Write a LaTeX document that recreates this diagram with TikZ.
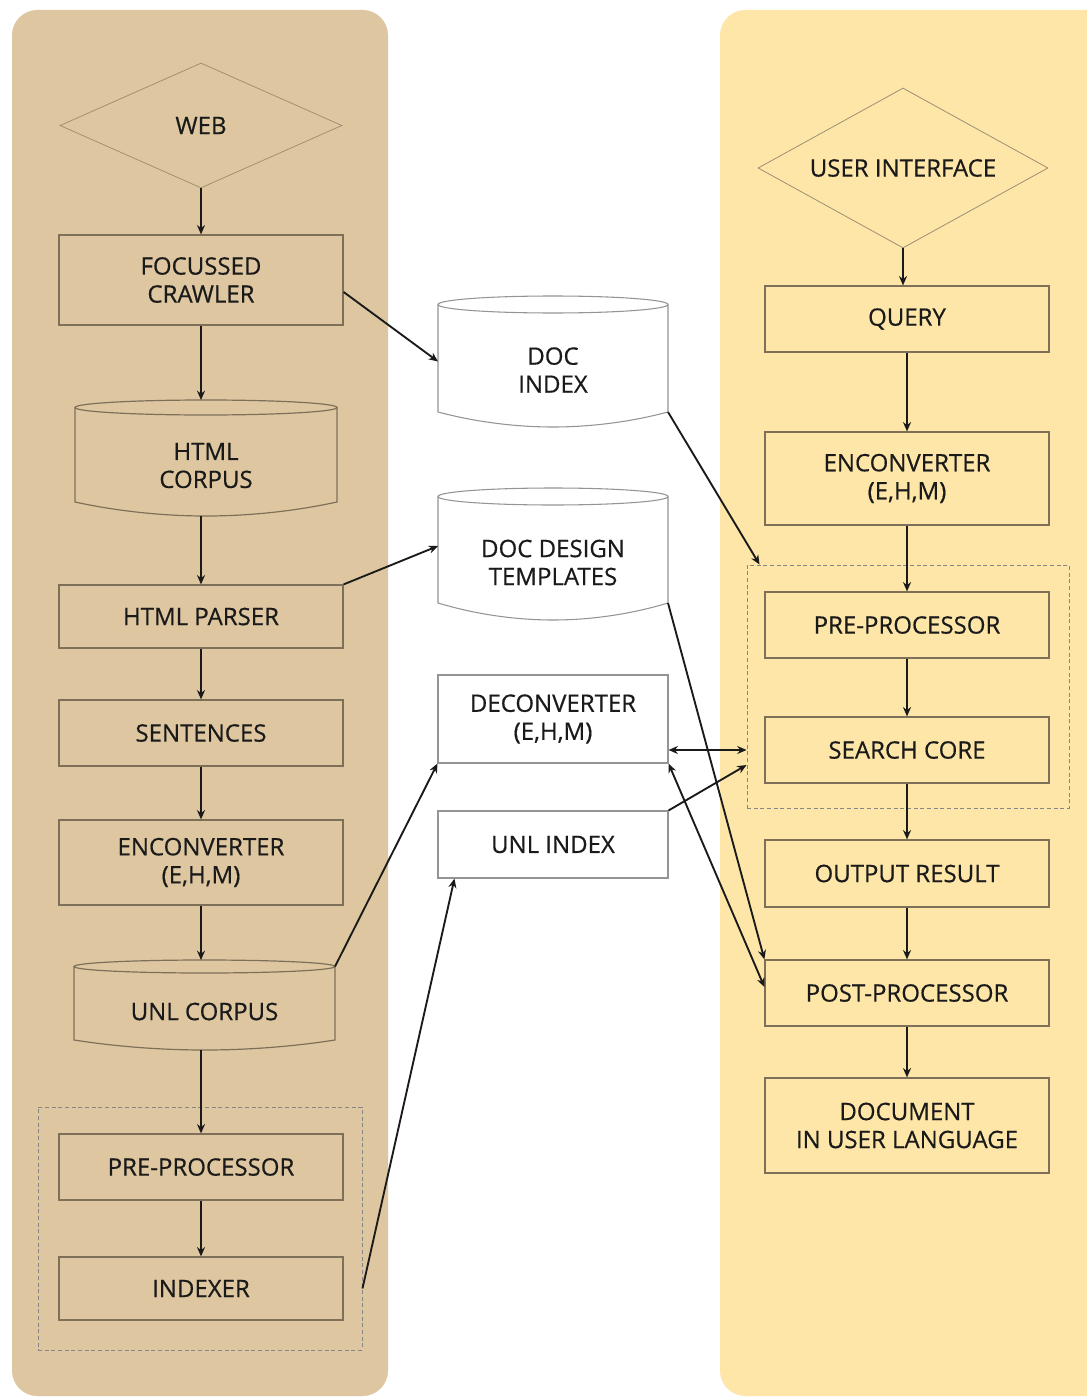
\documentclass[tikz,border=0pt]{standalone}
\usepackage{fontspec}
\setmainfont{Open Sans}[FakeBold=0.5]
\usetikzlibrary{shapes.geometric,arrows.meta,calc}
\definecolor{tanbg}{HTML}{DEC7A0}
\definecolor{creambg}{HTML}{FDE6A8}
\definecolor{edgec}{HTML}{7E7058}
\definecolor{midedge}{HTML}{949494}
\definecolor{diaedge}{HTML}{A08F72}
\definecolor{dashc}{HTML}{868686}
\definecolor{ink}{HTML}{1A1A1A}
\tikzset{
  txt/.style={font=\fontsize{18pt}{21pt}\selectfont, text=ink, align=center},
  pbox/.style={txt, draw=edgec, line width=0.9pt, minimum width=213pt, inner sep=0pt},
  mbox/.style={txt, draw=midedge, fill=white, line width=0.8pt, minimum width=172.5pt, inner sep=0pt},
  dia/.style={txt, diamond, draw=diaedge, line width=0.6pt, inner sep=0pt},
  dbox/.style={draw=dashc, dash pattern=on 3pt off 2pt, line width=0.7pt, inner sep=0pt},
  cyltext/.style={txt, inner sep=0pt},
  arr/.style={draw=ink, line width=1.4pt, -{Stealth[length=7pt,width=6pt]}},
  darr/.style={draw=ink, line width=1.4pt, {Stealth[length=7pt,width=6pt]}-{Stealth[length=7pt,width=6pt]}},
}
% #1 name, #2 x1, #3 x2, #4 ytop, #5 yfront, #6 ycorner, #7 ybottom, #8 text, #9 style
\newcommand\drawcyl[9]{%
  \path[#9, draw=none] (#2,{(#4+#5)/2}) -- (#2,#6) parabola bend ({(#2+#3)/2},#7) (#3,#6) -- (#3,{(#4+#5)/2}) -- cycle;
  \path[#9] ({(#2+#3)/2},{(#4+#5)/2}) ellipse [x radius={(#3-#2)/2}, y radius={(#5-#4)/2}];
  \path[#9, fill=none] (#2,{(#4+#5)/2}) -- (#2,#6) parabola bend ({(#2+#3)/2},#7) (#3,#6) -- (#3,{(#4+#5)/2});
  \node[cyltext] (#1) at ({(#2+#3)/2},{(#5+#7)/2}) {#8};
  \coordinate (#1-t) at ({(#2+#3)/2},#4);
  \coordinate (#1-b) at ({(#2+#3)/2},#7);
  \coordinate (#1-w) at (#2,{(#4+#7)/2});
  \coordinate (#1-tr) at (#3,{(#4+#5)/2});
  \coordinate (#1-br) at (#3,#6);
}
\begin{document}
\begin{tikzpicture}[x=0.75pt,y=-0.75pt]
\useasboundingbox (0,0) rectangle (1087,1398);
\clip (0,0) rectangle (1087,1398);
\fill[white] (0,0) rectangle (1087,1398);
\fill[tanbg, rounded corners=19pt] (12,10) rectangle (388,1396);
\fill[creambg, rounded corners=19pt] (720,10) rectangle (1140,1396);

% left column
\node[dia, aspect=2.26, minimum width=211.5pt, minimum height=93.75pt] (web) at (201,125.5) {WEB};
\node[pbox, minimum height=67.5pt] (crawler) at (201,280) {FOCUSSED\\CRAWLER};
\drawcyl{htmlc}{75}{337}{400}{415}{502}{516}{HTML\\CORPUS}{fill=tanbg, draw=edgec, line width=0.9pt}
\node[pbox, minimum height=47.25pt] (parser) at (201,616.5) {HTML PARSER};
\node[pbox, minimum height=49.5pt] (sent) at (201,733) {SENTENCES};
\node[pbox, minimum height=63.75pt] (encL) at (201,862.5) {ENCONVERTER\\(E,H,M)};
\drawcyl{unlc}{74}{335}{960}{973}{1040}{1050}{UNL CORPUS}{fill=tanbg, draw=edgec, line width=0.9pt}
\node[dbox, minimum width=243pt, minimum height=182.25pt] (dashL) at (200,1228.5) {};
\node[pbox, minimum height=49.5pt] (preL) at (201,1167) {PRE-PROCESSOR};
\node[pbox, minimum height=47.25pt] (indexer) at (201,1288.5) {INDEXER};

% middle column
\drawcyl{docidx}{438}{668}{296}{313}{412}{427}{DOC\\INDEX}{fill=white, draw=midedge, line width=0.8pt}
\drawcyl{doct}{438}{668}{488}{505}{603}{620}{DOC DESIGN\\TEMPLATES}{fill=white, draw=midedge, line width=0.8pt}
\node[mbox, minimum height=66pt] (deconv) at (553,719) {DECONVERTER\\(E,H,M)};
\node[mbox, minimum height=50.25pt] (unlidx) at (553,844.5) {UNL INDEX};

% right column
\node[dia, aspect=1.81, minimum width=217.5pt, minimum height=120pt] (ui) at (903,168) {USER INTERFACE};
\node[pbox, minimum height=49.5pt] (query) at (907,319) {QUERY};
\node[pbox, minimum height=69.75pt] (encR) at (907,478.5) {ENCONVERTER\\(E,H,M)};
\node[dbox, minimum width=241.5pt, minimum height=182.25pt] (dashR) at (908,686.5) {};
\node[pbox, minimum height=49.5pt] (preR) at (907,625) {PRE-PROCESSOR};
\node[pbox, minimum height=49.5pt] (search) at (907,750) {SEARCH CORE};
\node[pbox, minimum height=50.25pt] (output) at (907,873.5) {OUTPUT RESULT};
\node[pbox, minimum height=49.5pt] (post) at (907,993) {POST-PROCESSOR};
\node[pbox, minimum height=71.25pt] (udoc) at (907,1125.5) {DOCUMENT\\IN USER LANGUAGE};

% left flow
\draw[arr] (web.south) -- (crawler.north);
\draw[arr] (crawler.south) -- (crawler.south |- htmlc-t);
\draw[arr] (crawler.south |- htmlc-b) -- (parser.north);
\draw[arr] (parser.south) -- (sent.north);
\draw[arr] (sent.south) -- (encL.north);
\draw[arr] (encL.south) -- (encL.south |- unlc-t);
\draw[arr] (encL.south |- unlc-b) -- (preL.north);
\draw[arr] (preL.south) -- (indexer.north);

% right flow
\draw[arr] (ui.south) -- (ui.south |- query.north);
\draw[arr] (query.south) -- (encR.north);
\draw[arr] (encR.south) -- (preR.north);
\draw[arr] (preR.south) -- (search.north);
\draw[arr] (search.south) -- (output.north);
\draw[arr] (output.south) -- (post.north);
\draw[arr] (post.south) -- (udoc.north);

% cross connectors
\draw[arr] ($(crawler.east)+(0,12)$) -- (docidx-w);
\draw[arr] (parser.north east) -- ($(doct-w)+(0,-8)$);
\draw[arr] (unlc-tr) -- (deconv.south west);
\draw[arr] (dashL.east |- indexer.east) -- ($(unlidx.south west)+(17,0)$);
\draw[arr] (docidx-br) -- ($(dashR.north west)+(13,0)$);
\draw[arr] (doct-br) -- (post.north west);
\draw[darr] (deconv.east |- search.west) -- (dashR.west |- search.west);
\draw[arr] (unlidx.north east) -- ($(dashR.west |- search.west)+(0,15)$);
\draw[darr] (deconv.south east) -- ($(post.west)+(0,-6)$);
\end{tikzpicture}
\end{document}
